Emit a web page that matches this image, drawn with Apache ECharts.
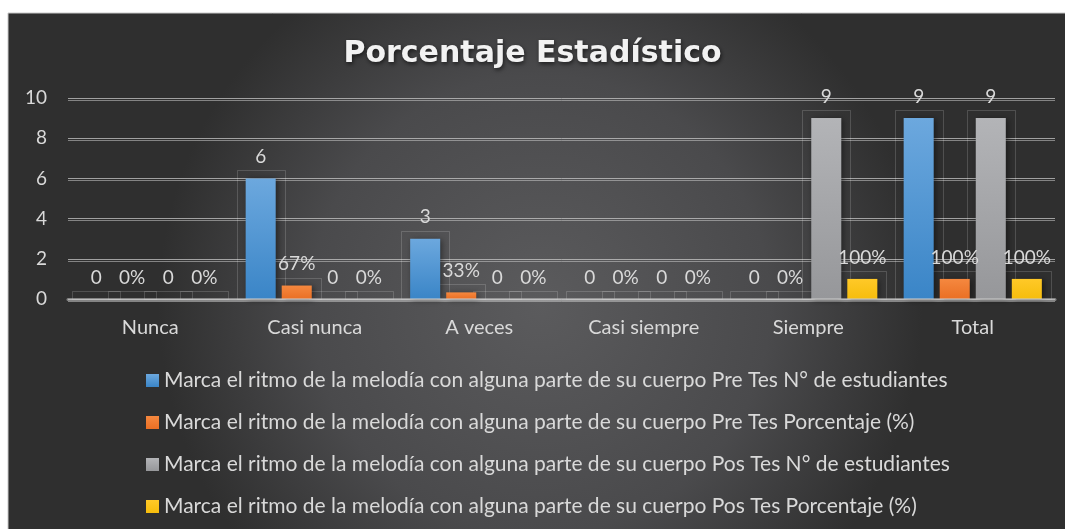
<!DOCTYPE html>
<html>
<head>
<meta charset="utf-8">
<script src="https://cdn.jsdelivr.net/npm/echarts@6/dist/echarts.min.js"></script>
<style>
  html, body { margin: 0; padding: 0; background: #ffffff; }
  #chart { width: 1065px; height: 529px; }
</style>
</head>
<body>
<div id="chart"></div>
<script>
// Categories on the x axis
const categories = ['Nunca', 'Casi nunca', 'A veces', 'Casi siempre', 'Siempre', 'Total'];

// Series names
const seriesNames = [
  'Marca el ritmo de la melodía con alguna parte de su cuerpo Pre Tes N° de estudiantes',
  'Marca el ritmo de la melodía con alguna parte de su cuerpo Pre Tes Porcentaje (%)',
  'Marca el ritmo de la melodía con alguna parte de su cuerpo Pos Tes N° de estudiantes',
  'Marca el ritmo de la melodía con alguna parte de su cuerpo Pos Tes Porcentaje (%)'
];

// Values per series
const preCount   = [0, 6, 3, 0, 0, 9];
const prePercent = [0, 0.67, 0.33, 0, 0, 1];
const posCount   = [0, 0, 0, 0, 9, 9];
const posPercent = [0, 0, 0, 0, 1, 1];

// Y axis ticks
const yMin = 0, yMax = 10, yStep = 2;

const textColor = '#d9d9d9';
const fontFamily = 'Lato, "Open Sans", sans-serif';

// Bar layout shared by the bars and their frames
const BAR_GAP = 0.2;        // gap between bars, as a share of bar width
const CATEGORY_GAP = 0.16;  // gap between categories, as a share of the band
const allSeries = [preCount, prePercent, posCount, posPercent];

function grad(top, bottom) {
  return new echarts.graphic.LinearGradient(0, 0, 0, 1, [
    { offset: 0, color: top },
    { offset: 1, color: bottom }
  ]);
}

const countLabel = v => String(v.value);
const pctLabel = v => Math.round(v.value * 100) + '%';

function barSeries(name, data, top, bottom, fmt) {
  return {
    name: name,
    type: 'bar',
    data: data,
    z: 3,
    barGap: (BAR_GAP * 100) + '%',
    barCategoryGap: (CATEGORY_GAP * 100) + '%',
    itemStyle: {
      color: grad(top, bottom),
      shadowColor: 'rgba(0,0,0,0.45)',
      shadowBlur: 6,
      shadowOffsetX: 2,
      shadowOffsetY: 1
    },
    label: {
      show: true,
      position: 'top',
      distance: 12,
      color: textColor,
      fontSize: 19,
      fontFamily: fontFamily,
      formatter: fmt
    }
  };
}

// Thin frame drawn around every bar, computed from the same values
const frameData = [];
allSeries.forEach((arr, s) => arr.forEach((v, c) => frameData.push([c, v, s])));

const frameSeries = {
  type: 'custom',
  z: 2,
  silent: true,
  data: frameData,
  encode: { x: 0, y: 1 },
  renderItem: function (params, api) {
    const c = api.value(0), v = api.value(1), s = api.value(2);
    const band = api.size([1, 0])[0];
    const n = allSeries.length;
    const used = band * (1 - CATEGORY_GAP);
    const bw = used / (n + (n - 1) * BAR_GAP);
    const step = bw * (1 + BAR_GAP);
    const center = api.coord([c, 0]);
    const top = api.coord([c, v]);
    const x0 = center[0] - used / 2 + s * step;
    const padX = 9;
    const padTop = 8;
    return {
      type: 'rect',
      shape: {
        x: Math.round(x0 - padX) + 0.5,
        y: Math.round(top[1] - padTop) + 0.5,
        width: Math.round(bw + 2 * padX),
        height: Math.round(center[1] - top[1] + padTop)
      },
      style: { fill: null, stroke: 'rgba(255,255,255,0.16)', lineWidth: 1 }
    };
  }
};

const chart = echarts.init(document.getElementById('chart'), null, { renderer: 'canvas' });

chart.setOption({
  backgroundColor: '#ffffff',
  animation: false,
  color: ['#4a90d2', '#f07a2e', '#a5a6a9', '#fec514'],
  graphic: [{
    type: 'rect',
    z: -10,
    silent: true,
    shape: { x: 8, y: 13, width: 1065, height: 530 },
    style: {
      fill: new echarts.graphic.RadialGradient(0.5, 0.55, 0.72, [
        { offset: 0, color: '#5b5b5d' },
        { offset: 0.6, color: '#4a4a4c' },
        { offset: 1, color: '#2f2f2f' }
      ]),
      stroke: '#c8c8c8',
      lineWidth: 1
    }
  }],
  title: {
    text: 'Porcentaje Estadístico',
    left: 'center',
    top: 34,
    textStyle: {
      color: '#f2f2f2',
      fontSize: 30,
      fontWeight: 'bold',
      fontFamily: '"DejaVu Sans", sans-serif',
      textShadowColor: 'rgba(0,0,0,0.6)',
      textShadowBlur: 4,
      textShadowOffsetX: 1,
      textShadowOffsetY: 2
    }
  },
  legend: {
    orient: 'vertical',
    left: 141,
    top: 365,
    itemWidth: 13,
    itemHeight: 13,
    itemGap: 21,
    itemTextGap: 5,
    itemStyle: { borderWidth: 0 },
    icon: 'rect',
    textStyle: { color: textColor, fontSize: 21, fontFamily: fontFamily },
    data: seriesNames
  },
  grid: { left: 68, right: 10, top: 98, bottom: 230, containLabel: false },
  xAxis: {
    type: 'category',
    data: categories,
    z: 5,
    axisLine: { lineStyle: { color: 'rgba(200,200,200,0.55)', width: 3 } },
    axisTick: { show: false },
    axisLabel: { color: textColor, fontSize: 20, fontFamily: fontFamily, margin: 19 }
  },
  yAxis: {
    type: 'value',
    min: yMin,
    max: yMax,
    interval: yStep,
    axisLine: { show: false },
    axisTick: { show: false },
    axisLabel: { color: textColor, fontSize: 19, fontFamily: fontFamily, margin: 21 },
    splitLine: {
      lineStyle: {
        color: 'rgba(200,200,200,0.75)',
        width: 1,
        shadowColor: 'rgba(200,200,200,0.75)',
        shadowBlur: 0,
        shadowOffsetY: 2
      }
    }
  },
  series: [
    barSeries(seriesNames[0], preCount, '#6ca8de', '#3a85c7', countLabel),
    barSeries(seriesNames[1], prePercent, '#f5883f', '#ea6f24', pctLabel),
    barSeries(seriesNames[2], posCount, '#b3b4b7', '#96979a', countLabel),
    barSeries(seriesNames[3], posPercent, '#ffc928', '#f6bd0c', pctLabel),
    frameSeries
  ]
});
</script>
</body>
</html>
